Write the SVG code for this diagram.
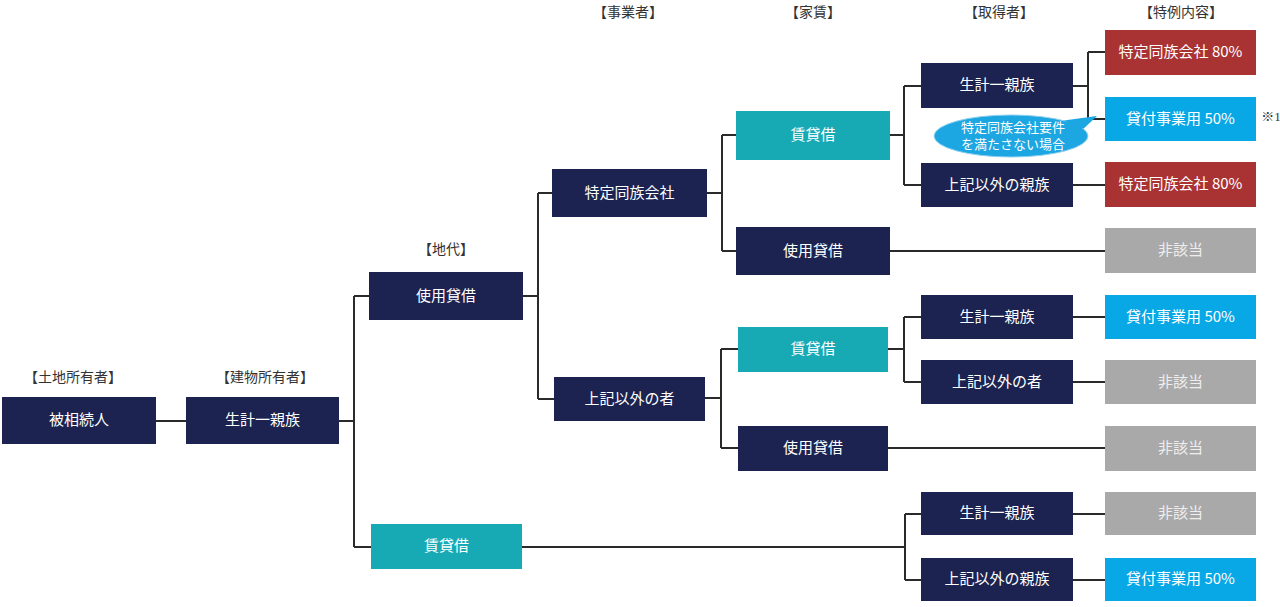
<svg xmlns="http://www.w3.org/2000/svg" width="1280" height="607" viewBox="0 0 1280 607">
<style>
text{font-family:"Noto Sans CJK JP","Noto Sans",sans-serif;text-anchor:middle;dominant-baseline:central;transform:translateY(-2px)}
.t{font-size:15px;fill:#ffffff}
.h{font-size:14px;fill:#333333}
.navy{fill:#1c2350}
.teal{fill:#17aab5}
.sky{fill:#08a8e6}
.red{fill:#a93333}
.gray{fill:#a9a9a9}
.gt{font-size:15px;fill:#eeeeee}
.c{stroke:#2a2a2a;stroke-width:2;fill:none}
</style>
<rect width="1280" height="607" fill="#ffffff"/>
<g id="headers">
<text class="h" x="73" y="378">【土地所有者】</text>
<text class="h" x="265" y="378">【建物所有者】</text>
<text class="h" x="446" y="250">【地代】</text>
<text class="h" x="628" y="13">【事業者】</text>
<text class="h" x="813" y="13">【家賃】</text>
<text class="h" x="999" y="13">【取得者】</text>
<text class="h" x="1181" y="13">【特例内容】</text>
<text class="h" x="1271" y="118" style="font-family:'Liberation Serif','Noto Sans CJK JP',serif;font-size:13px">※1</text>
</g>
<g id="connectors" class="c">
<path d="M156 421H186"/>
<path d="M339 421H354M354 296V547M354 296H369M354 547H371"/>
<path d="M523 296H538M538 193V399M538 193H552M538 399H554"/>
<path d="M707 193H722M722 135V251M722 135H736M722 251H736"/>
<path d="M890 135H904M904 86V185M904 86H921M904 185H921"/>
<path d="M1073 86H1088M1088 52V119M1088 52H1105M1088 119H1105"/>
<path d="M1073 185H1105"/>
<path d="M890 251H1105"/>
<path d="M705 398H721M721 349V448M721 349H738M721 448H738"/>
<path d="M888 349H904M904 317V382M904 317H921M904 382H921"/>
<path d="M1073 317H1105M1073 382H1105"/>
<path d="M888 448H1105"/>
<path d="M522 547H905M905 514V580M905 514H921M905 580H921"/>
<path d="M1073 514H1105M1073 580H1105"/>
</g>
<g id="n-hisouzoku"><rect class="navy" x="2" y="397" width="154" height="47"/><text class="t" x="79" y="420.5">被相続人</text></g>
<g id="n-tatemono"><rect class="navy" x="186" y="397" width="153" height="47"/><text class="t" x="262.5" y="420.5">生計一親族</text></g>
<g id="n-shiyou1"><rect class="navy" x="369" y="272" width="154" height="48"/><text class="t" x="446" y="296">使用貸借</text></g>
<g id="n-chintai1"><rect class="teal" x="371" y="524" width="151" height="45"/><text class="t" x="446.5" y="546.5">賃貸借</text></g>
<g id="n-tokutei"><rect class="navy" x="552" y="169" width="155" height="48"/><text class="t" x="629.5" y="193">特定同族会社</text></g>
<g id="n-igai"><rect class="navy" x="554" y="377" width="151" height="44"/><text class="t" x="629.5" y="399">上記以外の者</text></g>
<g id="n-chintai2"><rect class="teal" x="736" y="111" width="154" height="49"/><text class="t" x="813" y="135.5">賃貸借</text></g>
<g id="n-shiyou2"><rect class="navy" x="736" y="227" width="154" height="48"/><text class="t" x="813" y="251">使用貸借</text></g>
<g id="n-chintai3"><rect class="teal" x="738" y="327" width="150" height="45"/><text class="t" x="813" y="349.5">賃貸借</text></g>
<g id="n-shiyou3"><rect class="navy" x="738" y="426" width="150" height="45"/><text class="t" x="813" y="448.5">使用貸借</text></g>
<g id="n-seikei1"><rect class="navy" x="921" y="63" width="152" height="45"/><text class="t" x="997" y="85.5">生計一親族</text></g>
<g id="n-shinzoku1"><rect class="navy" x="921" y="163" width="152" height="44"/><text class="t" x="997" y="185">上記以外の親族</text></g>
<g id="n-seikei2"><rect class="navy" x="921" y="295" width="152" height="44"/><text class="t" x="997" y="317">生計一親族</text></g>
<g id="n-igai2"><rect class="navy" x="921" y="360" width="152" height="44"/><text class="t" x="997" y="382">上記以外の者</text></g>
<g id="n-seikei3"><rect class="navy" x="921" y="492" width="152" height="43"/><text class="t" x="997" y="513.5">生計一親族</text></g>
<g id="n-shinzoku3"><rect class="navy" x="921" y="558" width="152" height="43"/><text class="t" x="997" y="579.5">上記以外の親族</text></g>
<g id="r1"><rect class="red" x="1105" y="30" width="151" height="45"/><text class="t" x="1180.5" y="52.5">特定同族会社 80%</text></g>
<g id="r2"><rect class="sky" x="1105" y="97" width="151" height="44"/><text class="t" x="1180.5" y="119">貸付事業用 50%</text></g>
<g id="r3"><rect class="red" x="1105" y="162" width="151" height="45"/><text class="t" x="1180.5" y="184.5">特定同族会社 80%</text></g>
<g id="r4"><rect class="gray" x="1105" y="228" width="151" height="45"/><text class="gt" x="1180.5" y="250.5">非該当</text></g>
<g id="r5"><rect class="sky" x="1105" y="295" width="151" height="44"/><text class="t" x="1180.5" y="317">貸付事業用 50%</text></g>
<g id="r6"><rect class="gray" x="1105" y="360" width="151" height="44"/><text class="gt" x="1180.5" y="382">非該当</text></g>
<g id="r7"><rect class="gray" x="1105" y="426" width="151" height="45"/><text class="gt" x="1180.5" y="448.5">非該当</text></g>
<g id="r8"><rect class="gray" x="1105" y="492" width="151" height="43"/><text class="gt" x="1180.5" y="513.5">非該当</text></g>
<g id="r9"><rect class="sky" x="1105" y="558" width="151" height="43"/><text class="t" x="1180.5" y="579.5">貸付事業用 50%</text></g>
<g id="callout">
<path d="M1060 121 L1097 116 L1080 132 Z" fill="#1ca6e2"/>
<ellipse cx="1011" cy="136" rx="77" ry="21" fill="#1ca6e2" stroke="#8fd0f0" stroke-width="1"/>
<path d="M1062 122 L1096 116.5 L1079 131" fill="#1ca6e2"/>
<text x="1013" y="128" style="font-size:13px;fill:#ffffff">特定同族会社要件</text>
<text x="1013" y="145" style="font-size:13px;fill:#ffffff">を満たさない場合</text>
</g>
</svg>
